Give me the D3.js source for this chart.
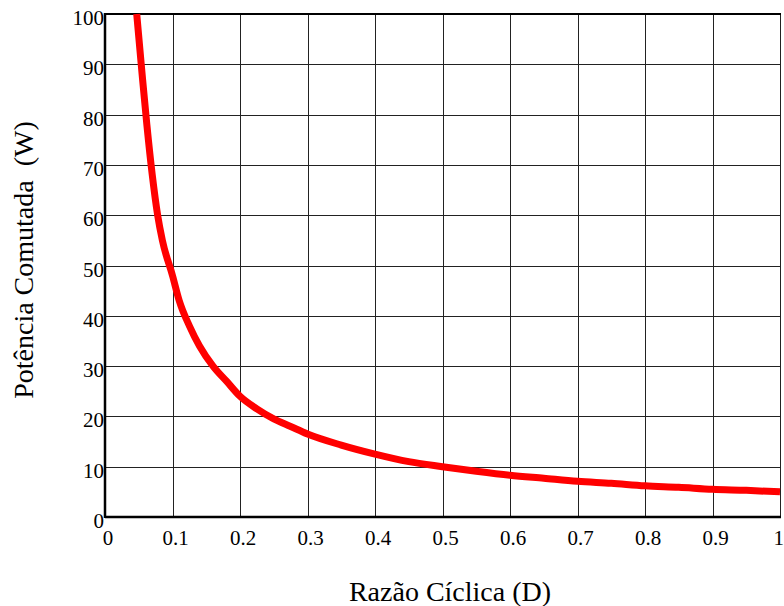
<!DOCTYPE html>
<html>
<head>
<meta charset="utf-8">
<script src="https://cdn.jsdelivr.net/npm/d3@7"></script>
<style>
  html, body { margin: 0; padding: 0; background: #fff; }
  svg { display: block; }
</style>
</head>
<body>
<svg id="chart" width="784" height="606"></svg>
<script>
// Duty cycle (D) and switched power (W)
const dutyCycle = [0.047, 0.055, 0.062, 0.070, 0.078, 0.085, 0.100, 0.110, 0.125, 0.140,
                   0.160, 0.180, 0.200, 0.225, 0.250, 0.275, 0.300, 0.350, 0.400, 0.450,
                   0.500, 0.550, 0.600, 0.650, 0.700, 0.750, 0.800, 0.850, 0.900, 0.950, 1.000];
const power     = [100, 88, 78, 68, 60, 55, 48, 43, 38, 34,
                   30, 27, 24, 21.5, 19.5, 18, 16.5, 14.3, 12.5, 11,
                   10, 9.1, 8.3, 7.7, 7.1, 6.7, 6.2, 5.9, 5.5, 5.3, 5.0];

const xTicks = [0, 0.1, 0.2, 0.3, 0.4, 0.5, 0.6, 0.7, 0.8, 0.9, 1];
const xTickLabels = ["0", "0.1", "0.2", "0.3", "0.4", "0.5", "0.6", "0.7", "0.8", "0.9", "1"];
const yTicks = [0, 10, 20, 30, 40, 50, 60, 70, 80, 90, 100];

const FONT = "Liberation Serif";

const svg = d3.select("#chart");
const plotL = 105, plotR = 780, plotT = 14, plotB = 517;

const x = d3.scaleLinear().domain([0, 1]).range([plotL, plotR]);
const y = d3.scaleLinear().domain([0, 100]).range([plotB, plotT]);

// grid
const grid = svg.append("g").attr("stroke", "#222").attr("stroke-width", 1).attr("shape-rendering", "crispEdges");
grid.selectAll("line.v").data(xTicks.slice(1)).join("line")
  .attr("x1", d => Math.round(x(d)) + 0.5).attr("x2", d => Math.round(x(d)) + 0.5)
  .attr("y1", plotT).attr("y2", plotB);
grid.selectAll("line.h").data(yTicks.slice(1)).join("line")
  .attr("x1", plotL).attr("x2", plotR)
  .attr("y1", d => Math.round(y(d)) + 0.5).attr("y2", d => Math.round(y(d)) + 0.5);

// frame
svg.append("line").attr("x1", plotL).attr("x2", plotR + 1).attr("y1", plotT).attr("y2", plotT)
  .attr("stroke", "#000").attr("stroke-width", 2);
svg.append("line").attr("x1", plotL).attr("x2", plotL).attr("y1", plotT - 1).attr("y2", plotB + 1)
  .attr("stroke", "#000").attr("stroke-width", 2.5);
svg.append("line").attr("x1", plotL).attr("x2", plotR + 1).attr("y1", plotB).attr("y2", plotB)
  .attr("stroke", "#000").attr("stroke-width", 2.5);

// tick labels
svg.append("g").selectAll("text").data(xTicks).join("text")
  .attr("x", d => d === 1 ? 784 : x(d) + 3).attr("y", 545)
  .attr("text-anchor", d => d === 1 ? "end" : "middle")
  .style("font-family", FONT).style("font-size", "21px")
  .text((d, i) => xTickLabels[i]);
svg.append("g").selectAll("text").data(yTicks).join("text")
  .attr("x", 104).attr("y", d => y(d) + 11)
  .attr("text-anchor", "end").style("font-family", FONT).style("font-size", "21px")
  .text(d => d);

// curve
const pts = dutyCycle.map((d, i) => [d, power[i]]);
svg.append("path").datum(pts)
  .attr("fill", "none").attr("stroke", "#ff0000").attr("stroke-width", 7)
  .attr("stroke-linejoin", "round")
  .attr("d", d3.line().x(d => x(d[0])).y(d => y(d[1])).curve(d3.curveMonotoneX));

// axis titles
svg.append("text").attr("x", 450).attr("y", 601).attr("text-anchor", "middle")
  .style("font-family", FONT).style("font-size", "28px").text("Razão Cíclica (D)");
svg.append("text").attr("transform", "translate(33,260) rotate(-90)")
  .attr("text-anchor", "middle").style("font-family", FONT).style("font-size", "28px")
  .style("white-space", "pre")
  .text("Potência Comutada  (W)");
</script>
</body>
</html>
